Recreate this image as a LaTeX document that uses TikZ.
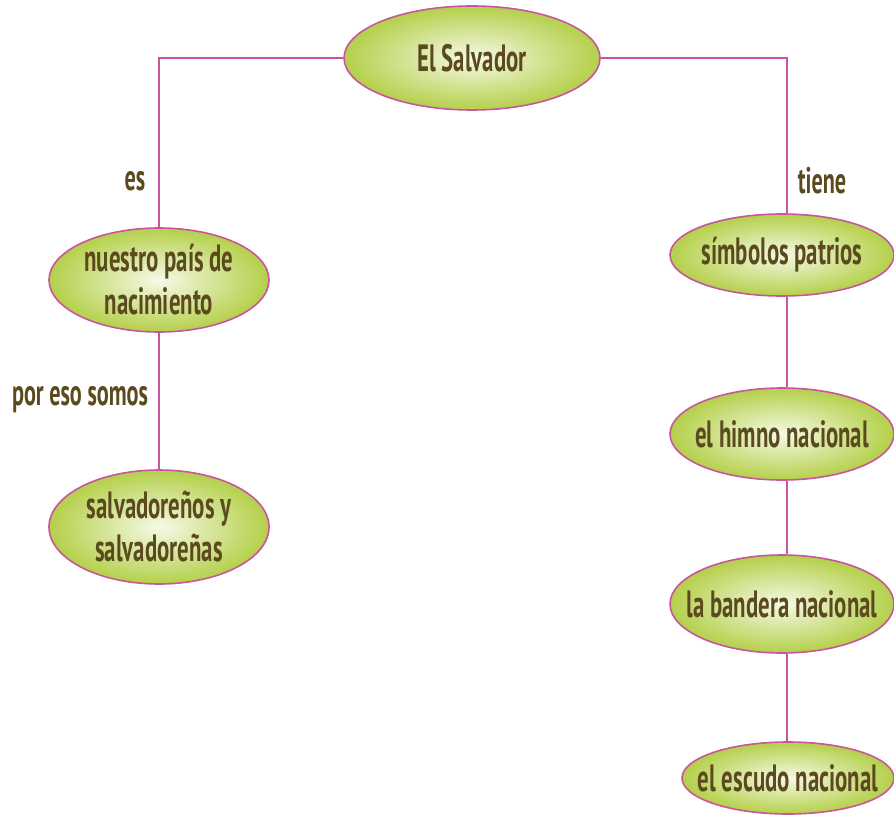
\documentclass[tikz,border=0pt]{standalone}
\usepackage{fontspec}
\setmainfont{PT Sans}[FakeStretch=0.6]
\usetikzlibrary{shapes.geometric,backgrounds,calc}
\definecolor{edgemag}{HTML}{C9559F}
\definecolor{txtbrown}{HTML}{5A4A1E}
\definecolor{ellin}{HTML}{F6F9E6}
\definecolor{ellout}{HTML}{B4D04A}
\tikzset{
  concept/.style={ellipse, draw=edgemag, line width=1.6pt, inner xsep=-30pt, inner ysep=-14pt,
    shading=radial, inner color=ellin, outer color=ellout,
    text=txtbrown, font=\bfseries\fontsize{38}{43}\selectfont, align=center},
  link/.style={draw=edgemag, line width=1.6pt},
  lbl/.style={text=txtbrown, font=\bfseries\fontsize{37}{42}\selectfont, inner sep=0pt}
}
\begin{document}
\begin{tikzpicture}[x=1pt,y=-1pt]
\useasboundingbox (0,0) rectangle (894,816);
\node[concept, minimum width=256pt, minimum height=104pt] (top) at (472,58) {El Salvador};
\node[concept, minimum width=220pt, minimum height=104pt] (pais) at (159,280) {nuestro país de\\nacimiento};
\node[concept, minimum width=220pt, minimum height=114pt] (salv) at (159,527) {salvadoreños y\\salvadoreñas};
\node[concept, minimum width=224pt, minimum height=82pt] (simb) at (782,255) {símbolos patrios};
\node[concept, minimum width=224pt, minimum height=92pt] (himno) at (782,434) {el himno nacional};
\node[concept, minimum width=224pt, minimum height=98pt] (bandera) at (782,604) {la bandera nacional};
\node[concept, minimum width=212pt, minimum height=72pt] (escudo) at (788,778) {el escudo nacional};
\node[lbl] (es) at (135,181) {es};
\node[lbl] (tiene) at (822,181) {tiene};
\node[lbl] (poreso) at (80,400) {por eso somos};
\begin{scope}[on background layer]
\fill[white] (0,0) rectangle (894,816);
\draw[link] (top.west) -| (pais.north);
\draw[link] (top.east) -| ([xshift=5pt]simb.north);
\draw[link] (pais.south) -- (salv.north);
\draw[link] ([xshift=5pt]simb.south) -- ([xshift=5pt]himno.north);
\draw[link] ([xshift=5pt]himno.south) -- ([xshift=5pt]bandera.north);
\draw[link] ([xshift=5pt]bandera.south) -- ([xshift=-1pt]escudo.north);
\end{scope}
\end{tikzpicture}
\end{document}
